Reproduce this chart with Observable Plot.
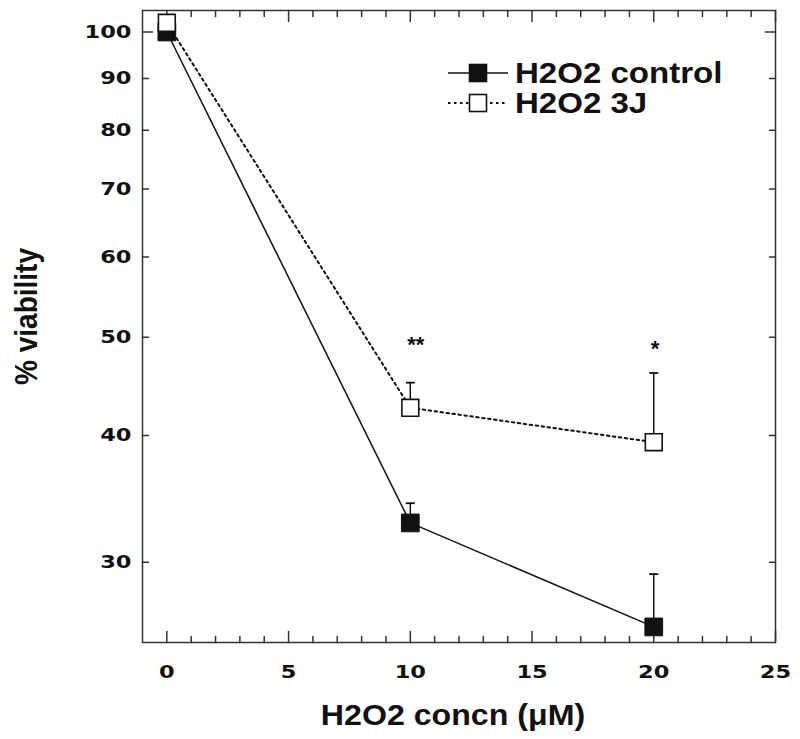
<!DOCTYPE html>
<html><head><meta charset="utf-8">
<script src="https://cdn.jsdelivr.net/npm/d3@7"></script>
<script src="https://cdn.jsdelivr.net/npm/@observablehq/plot@0.6"></script>
<style>
body{margin:0;background:#fff;}
#chart{position:relative;width:800px;height:739px;}
#legend{position:absolute;left:440px;top:55px;}
</style></head><body><div id="chart"></div>
<script>
// ---- data ----
const concn = [0, 10, 20];
const controlViability = [100, 32.8, 25.9];
const controlUpper = [null, 34.3, 29.2];
const treatedViability = [102.1, 42.6, 39.4];
const treatedUpper = [null, 45.1, 46.1];
const significance = [null, "**", "*"];
const significanceLevel = [null, 48.3, 47.9];
const seriesNames = ["H2O2 control", "H2O2 3J"];
const xTickLabels = [0, 5, 10, 15, 20, 25];
const xMinorTicks = d3.range(0, 25).filter(v => v % 5 !== 0);
const yTickLabels = [30, 40, 50, 60, 70, 80, 90, 100];
const xTitle = "H2O2 concn (\u03BCM)";
const yTitle = "% viability";

const rows = concn.map((c, i) => ({
  concn: c,
  control: controlViability[i], controlUpper: controlUpper[i],
  treated: treatedViability[i], treatedUpper: treatedUpper[i],
  sig: significance[i], sigY: significanceLevel[i]
}));

const tickShape = {draw(ctx, l) { ctx.moveTo(0, 0); ctx.lineTo(0, -l); }};
const capSymbol = {draw(ctx, size) { const r = Math.sqrt(size / Math.PI); ctx.moveTo(-r, 0); ctx.lineTo(r, 0); }};
const ink = "#111";
const frameInk = "#333";
const labelFont = "DejaVu Sans";
const titleFont = "Liberation Sans";

function ticks(data, chan, anchor, rotate, length) {
  return Plot.vector(data, {[chan]: d => d, frameAnchor: anchor, rotate, length, anchor: "start",
    shape: tickShape, stroke: frameInk, strokeWidth: 1.5});
}

const plot = Plot.plot({
  width: 800, height: 739,
  marginLeft: 142, marginRight: 25, marginTop: 10, marginBottom: 97,
  x: {domain: [-1, 25]},
  y: {type: "log", domain: [25, 105]},
  style: {background: "white", color: ink},
  marks: [
    Plot.frame({stroke: frameInk, strokeWidth: 1.5}),
    ticks(xTickLabels, "x", "bottom", 0, 11),
    ticks(xMinorTicks, "x", "bottom", 0, 6),
    ticks(xTickLabels, "x", "top", 180, 11),
    ticks(xMinorTicks, "x", "top", 180, 6),
    ticks(yTickLabels.filter(v => v === 100), "y", "left", 90, 10),
    ticks(yTickLabels.filter(v => v !== 100), "y", "left", 90, 6),
    ticks(yTickLabels.filter(v => v === 100), "y", "right", -90, 10),
    ticks(yTickLabels.filter(v => v !== 100), "y", "right", -90, 6),
    Plot.axisX({ticks: xTickLabels, tickSize: 0, tickPadding: 23, label: null,
      fontFamily: labelFont, fontWeight: "bold", fontSize: 18, fill: ink}),
    Plot.axisY({ticks: yTickLabels, tickFormat: d => String(d), tickSize: 0, tickPadding: 11, label: null,
      fontFamily: labelFont, fontWeight: "bold", fontSize: 18, fill: ink}),
    Plot.text([xTitle], {frameAnchor: "bottom", textAnchor: "middle", lineAnchor: "bottom", dy: 82, dx: -6,
      fontFamily: titleFont, fontWeight: "bold", fontSize: 29.5, fill: ink}),
    Plot.text([yTitle], {frameAnchor: "left", textAnchor: "middle", lineAnchor: "bottom", rotate: -90, dx: -106, dy: -10,
      fontFamily: titleFont, fontWeight: "bold", fontSize: 28, fill: ink}),
    // control series
    Plot.line(rows, {x: "concn", y: "control", stroke: ink, strokeWidth: 1.5}),
    Plot.ruleX(rows, {x: "concn", y1: "control", y2: "controlUpper", stroke: ink, strokeWidth: 1.5}),
    Plot.dot(rows, {x: "concn", y: "controlUpper", symbol: capSymbol, r: 4.5, fill: "none", stroke: ink, strokeWidth: 1.8}),
    Plot.dot(rows, {x: "concn", y: "control", symbol: "square", r: 10, fill: ink, stroke: ink, strokeWidth: 1}),
    // 3J series
    Plot.line(rows, {x: "concn", y: "treated", stroke: ink, strokeWidth: 2, strokeDasharray: "2.5,3.5"}),
    Plot.ruleX(rows, {x: "concn", y1: "treated", y2: "treatedUpper", stroke: ink, strokeWidth: 1.5}),
    Plot.dot(rows, {x: "concn", y: "treatedUpper", symbol: capSymbol, r: 4.5, fill: "none", stroke: ink, strokeWidth: 1.8}),
    Plot.dot(rows, {x: "concn", y: "treated", symbol: "square", r: 9.5, fill: "white", stroke: ink, strokeWidth: 1.6}),
    // significance
    Plot.text(rows, {x: "concn", y: "sigY", text: "sig", textAnchor: "start", lineAnchor: "bottom", dx: -3,
      fontFamily: titleFont, fontWeight: "bold", fontSize: 22, fill: ink})
  ]
});

// stretch text horizontally as in the reference
plot.querySelectorAll("g[aria-label*='tick label'] text").forEach(t => {
  t.setAttribute("transform", (t.getAttribute("transform") || "") + " scale(1.25,1)");
});
plot.querySelectorAll("g[aria-label='text'] text").forEach(t => {
  const tr = t.getAttribute("transform") || "";
  if (tr.includes("rotate")) t.setAttribute("transform", tr + " scale(1,1.14)");
  else if (t.textContent === xTitle) t.setAttribute("transform", tr + " scale(1.09,1)");
});

const chart = document.getElementById("chart");
chart.appendChild(plot);

// legend
const leg = d3.select(chart).append("svg").attr("id", "legend").attr("width", 320).attr("height", 70);
const styles = [{dash: null, fill: ink, w: 1.5}, {dash: "2.5,3.5", fill: "white", w: 2}];
seriesNames.forEach((name, i) => {
  const cy = 18 + i * 30;
  const g = leg.append("g");
  g.append("line").attr("x1", 8).attr("x2", 68).attr("y1", cy).attr("y2", cy)
    .attr("stroke", ink).attr("stroke-width", styles[i].w).attr("stroke-dasharray", styles[i].dash);
  g.append("rect").attr("x", 29.5).attr("y", cy - 8.5).attr("width", 17).attr("height", 17)
    .attr("fill", styles[i].fill).attr("stroke", ink).attr("stroke-width", 1.6);
  g.append("text").attr("transform", `translate(75,${cy + 10.4}) scale(1.14,1)`)
    .attr("font-family", titleFont).attr("font-weight", "bold").attr("font-size", 29).attr("fill", ink)
    .text(name);
});
</script></body></html>
